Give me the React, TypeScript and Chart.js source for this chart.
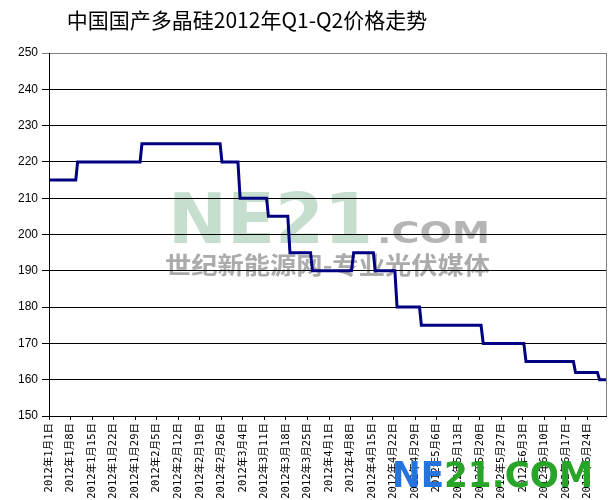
import React, { useEffect, useRef } from "react";
import { Chart, registerables } from "chart.js";

Chart.register(...registerables);

const chartTitle = "中国国产多晶硅2012年Q1-Q2价格走势";

const tickLabels = [
  "2012年1月1日", "2012年1月8日", "2012年1月15日", "2012年1月22日", "2012年1月29日",
  "2012年2月5日", "2012年2月12日", "2012年2月19日", "2012年2月26日",
  "2012年3月4日", "2012年3月11日", "2012年3月18日", "2012年3月25日",
  "2012年4月1日", "2012年4月8日", "2012年4月15日", "2012年4月22日", "2012年4月29日",
  "2012年5月6日", "2012年5月13日", "2012年5月20日", "2012年5月27日",
  "2012年6月3日", "2012年6月10日", "2012年6月17日", "2012年6月24日",
];

// day offsets from 2012-01-01
const dayOffsets = [
  0, 8.7, 9.3, 29.6, 30.2, 55.6, 56.2, 61.4, 62.1, 70.7, 71.3, 77.6, 78.3,
  85.0, 85.6, 98.3, 99.0, 105.4, 106.0, 112.4, 113.1, 120.4, 121.0, 140.4,
  141.1, 154.3, 155.0, 170.4, 171.1, 178.2, 178.9, 181,
];
const prices = [
  215, 215, 220, 220, 225, 225, 220, 220, 210, 210, 205, 205, 195,
  195, 190, 190, 195, 195, 190, 190, 180, 180, 175, 175,
  170, 170, 165, 165, 162, 162, 160, 160,
];

const yTicks = [150, 160, 170, 180, 190, 200, 210, 220, 230, 240, 250];

function drawFitted(ctx: CanvasRenderingContext2D, text: string, x: number, y: number, w: number) {
  const m = ctx.measureText(text).width;
  ctx.save();
  ctx.translate(x, y);
  ctx.scale(w / m, 1);
  ctx.fillText(text, 0, 0);
  ctx.restore();
}

const decorPlugin = {
  id: "decor",
  beforeDraw(chart: any) {
    const ctx = chart.ctx as CanvasRenderingContext2D;
    ctx.save();
    ctx.textBaseline = "alphabetic";
    ctx.textAlign = "left";
    ctx.fillStyle = "#c6decd";
    ctx.font = "bold 70px 'DejaVu Sans'";
    drawFitted(ctx, "NE21", 168, 243, 205);
    ctx.fillStyle = "#b5b5b5";
    ctx.font = "bold 30px 'DejaVu Sans'";
    drawFitted(ctx, ".COM", 377, 243, 113);
    ctx.fillStyle = "#ababab";
    ctx.font = "bold 24px 'Noto Sans CJK SC'";
    drawFitted(ctx, "世纪新能源网-专业光伏媒体", 165, 274, 325);
    ctx.restore();
  },
  afterDraw(chart: any) {
    const ctx = chart.ctx as CanvasRenderingContext2D;
    const a = chart.chartArea;
    ctx.save();
    ctx.strokeStyle = "#808080";
    ctx.lineWidth = 1;
    ctx.beginPath();
    ctx.moveTo(a.right + 0.5, a.top);
    ctx.lineTo(a.right + 0.5, a.bottom);
    ctx.stroke();
    // title
    ctx.fillStyle = "#000";
    ctx.font = "21px 'Noto Sans CJK SC'";
    ctx.textAlign = "center";
    ctx.textBaseline = "middle";
    ctx.fillText(chartTitle, 247, 20);
    // bottom logo
    ctx.textAlign = "left";
    ctx.textBaseline = "alphabetic";
    ctx.font = "bold 35px 'DejaVu Sans'";
    const full = "NE21.COM";
    const m = ctx.measureText(full).width;
    const sx = 201 / m;
    ctx.translate(392, 487);
    ctx.scale(sx, 1);
    ctx.fillStyle = "#2474dc";
    ctx.fillText("NE", 0, 0);
    const neW = ctx.measureText("NE").width;
    ctx.fillStyle = "#28a428";
    ctx.fillText("21.COM", neW, 0);
    ctx.restore();
  },
};

export default function App() {
  const ref = useRef<HTMLCanvasElement | null>(null);
  useEffect(() => {
    document.body.style.margin = "0";
    const canvas = ref.current!;
    const chart = new Chart(canvas, {
      type: "line",
      data: {
        datasets: [
          {
            data: dayOffsets.map((d, i) => ({ x: d, y: prices[i] })),
            borderColor: "#000080",
            borderWidth: 3,
            pointRadius: 0,
            tension: 0,
            fill: false,
          },
        ],
      },
      options: {
        animation: false,
        responsive: false,
        layout: { padding: { top: 53, right: 3, left: 0, bottom: 0 } },
        plugins: { legend: { display: false }, title: { display: false }, tooltip: { enabled: false } },
        scales: {
          x: {
            type: "linear",
            min: 0,
            max: 181,
            afterBuildTicks: (scale: any) => {
              scale.ticks = tickLabels.map((_, i) => ({ value: i * 7 }));
            },
            afterFit: (scale: any) => {
              scale.height = 84;
            },
            grid: { drawOnChartArea: false, drawTicks: true, tickLength: 4, color: "#000" },
            border: { color: "#000", width: 1 },
            ticks: {
              autoSkip: false,
              minRotation: 90,
              maxRotation: 90,
              padding: 3,
              color: "#000",
              font: { size: 10.5, family: "'DejaVu Sans Mono', 'Noto Sans CJK SC'" },
              callback: (v: any) => tickLabels[Math.round(Number(v) / 7)] ?? "",
            },
          },
          y: {
            min: 150,
            max: 250,
            afterBuildTicks: (scale: any) => {
              scale.ticks = yTicks.map((v) => ({ value: v }));
            },
            afterFit: (scale: any) => {
              scale.width = 49;
            },
            grid: {
              color: (c: any) => (c.tick && c.tick.value === 250 ? "#808080" : "#000"),
              tickLength: 7,
              drawTicks: true,
            },
            border: { color: "#000", width: 1 },
            ticks: {
              padding: 4,
              color: "#000",
              font: { size: 12, family: "'Liberation Sans'" },
            },
          },
        },
      },
      plugins: [decorPlugin],
    });
    return () => chart.destroy();
  }, []);
  return (
    <div style={{ width: 609, height: 500, background: "#fff" }}>
      <canvas ref={ref} width={609} height={500} style={{ width: 609, height: 500, display: "block" }} />
    </div>
  );
}
